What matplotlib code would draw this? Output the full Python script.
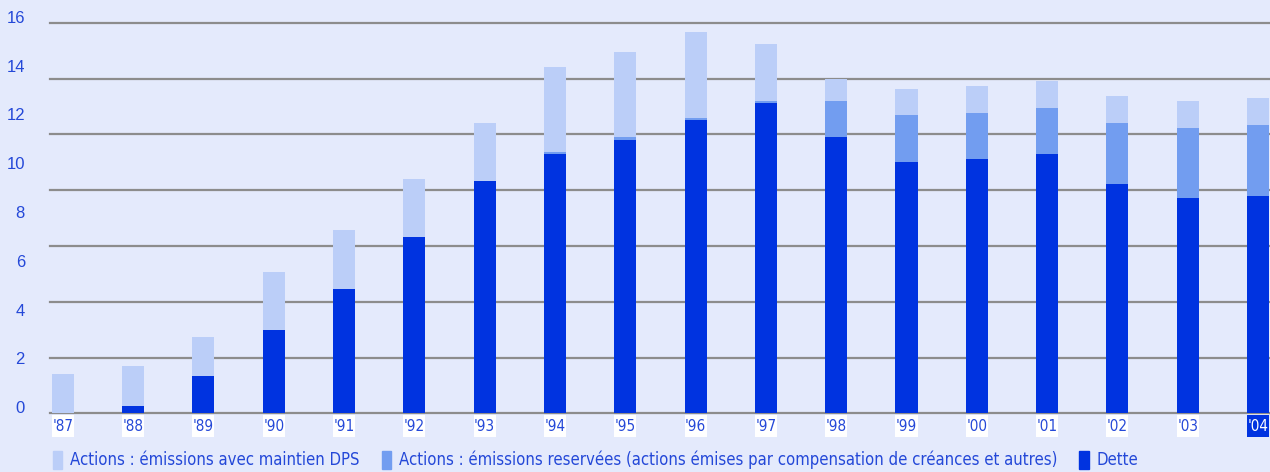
import numpy as np
import matplotlib.pyplot as plt
from matplotlib.patches import Patch
from matplotlib.transforms import ScaledTranslation

years = ["'87", "'88", "'89", "'90", "'91", "'92", "'93", "'94", "'95",
         "'96", "'97", "'98", "'99", "'00", "'01", "'02", "'03", "'04"]
dette = [0.0, 0.3, 1.53, 3.41, 5.09, 7.22, 9.51, 10.62, 11.2,
         12.02, 12.71, 11.32, 10.3, 10.42, 10.62, 9.39, 8.82, 8.9]
reservees = [0.0, 0.0, 0.0, 0.0, 0.0, 0.0, 0.0, 0.09, 0.12,
             0.08, 0.08, 1.47, 1.92, 1.88, 1.89, 2.5, 2.87, 2.91]
maintien_dps = [1.61, 1.64, 1.6, 2.38, 2.42, 2.38, 2.38, 3.48, 3.48,
                3.52, 2.34, 0.89, 1.07, 1.11, 1.1, 1.11, 1.1, 1.11]
y_ticks = [0, 2, 4, 6, 8, 10, 12, 14, 16]

legend_labels = ["Actions : émissions avec maintien DPS",
                 "Actions : émissions reservées (actions émises par compensation de créances et autres)",
                 "Dette"]

BG = "#e4eafc"
LIGHT = "#bbcef8"
MID = "#729df0"
DARK = "#0033e0"
TEXT = "#2448d8"
NARROW = "DejaVu Sans"

fig = plt.figure(figsize=(12.7, 4.72), dpi=100, facecolor=BG)
ax = fig.add_axes([50 / 1270, (472 - 413.3) / 472, 1 - 50 / 1270, (413.3 - 22.7) / 472])
ax.set_facecolor(BG)

x = np.arange(len(years))
dette = np.array(dette)
reservees = np.array(reservees)
maintien_dps = np.array(maintien_dps)
w = 0.313

ax.bar(x, dette, w, color=DARK, zorder=3)
ax.bar(x, reservees, w, bottom=dette, color=MID, zorder=3)
ax.bar(x, maintien_dps, w, bottom=dette + reservees, color=LIGHT, zorder=3)

ax.set_xlim(-0.182, 17.17)
ax.set_ylim(0, 16)

# gridlines: 7 bands between 0 and 16
for g in np.linspace(0, 16, 8):
    ax.axhline(g, color="#8c8c8c", linewidth=1.6, zorder=1, clip_on=False)

ax.set_yticks(y_ticks)
ax.set_yticklabels([str(v) for v in y_ticks], fontsize=12, color=TEXT,
                   family=["Liberation Sans", "DejaVu Sans"])
ax.tick_params(axis="y", length=0, pad=18)
shift = ScaledTranslation(0, 6 / 100, fig.dpi_scale_trans)
for lab in ax.get_yticklabels():
    lab.set_transform(lab.get_transform() + shift)

ax.set_xticks([])
for s in ax.spines.values():
    s.set_visible(False)

# year labels in boxes (bar wide) under the bars
box_colors = ["white"] * (len(years) - 1) + [DARK]
ax.bar(x, -0.9, w, bottom=-0.07, color=box_colors, clip_on=False, zorder=3)
for i, yr in enumerate(years):
    last = i == len(years) - 1
    ax.text(i, -0.53, yr, ha="center", va="center", fontsize=11,
            family=NARROW, stretch="condensed", color="white" if last else TEXT,
            clip_on=False, zorder=4)

handles = [Patch(color=LIGHT), Patch(color=MID), Patch(color=DARK)]
fig.legend(handles, legend_labels, ncol=3, loc="center left",
           bbox_to_anchor=(38 / 1270, 12 / 472), frameon=False,
           handlelength=0.55, handleheight=1.3, handletextpad=0.5,
           columnspacing=1.3,
           prop={"family": NARROW, "stretch": "condensed", "size": 12},
           labelcolor=TEXT)

fig.savefig("out.png", dpi=100, facecolor=BG)
